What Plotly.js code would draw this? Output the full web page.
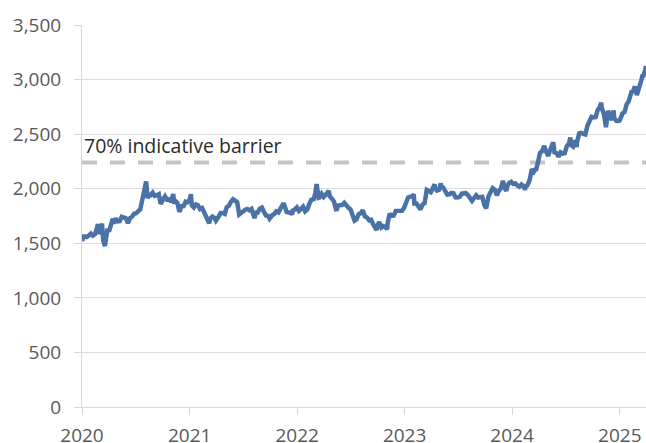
<!DOCTYPE html>
<html>
<head>
<meta charset="utf-8">
<script src="https://cdn.plot.ly/plotly-3.0.1.min.js"></script>
<style>html,body{margin:0;padding:0;background:#fff;}#chart{width:646px;height:443px;}</style>
</head>
<body>
<div id="chart"></div>
<script>
// Gold price (USD/oz)
const dates2020 = ["2020-01-01","2020-01-03","2020-01-08","2020-01-10","2020-01-17","2020-01-24","2020-01-31","2020-02-07","2020-02-14","2020-02-21","2020-02-24","2020-02-28","2020-03-06","2020-03-09","2020-03-13","2020-03-19","2020-03-20","2020-03-27","2020-04-03","2020-04-10","2020-04-14","2020-04-17","2020-04-24","2020-05-01","2020-05-08","2020-05-15","2020-05-22","2020-05-29","2020-06-05","2020-06-12","2020-06-19","2020-06-26","2020-07-03","2020-07-10","2020-07-17","2020-07-24","2020-07-31","2020-08-06","2020-08-07","2020-08-11","2020-08-14","2020-08-21","2020-08-28","2020-09-04","2020-09-11","2020-09-18","2020-09-24","2020-10-02","2020-10-09","2020-10-16","2020-10-23","2020-10-30","2020-11-06","2020-11-09","2020-11-13","2020-11-20","2020-11-27","2020-12-04","2020-12-11","2020-12-18","2020-12-24","2020-12-31"];
const gold2020 = [1520,1552,1575,1562,1557,1571,1589,1570,1584,1644,1675,1585,1673,1680,1530,1475,1498,1618,1620,1683,1725,1683,1727,1700,1702,1743,1735,1730,1684,1730,1743,1771,1775,1799,1810,1902,1975,2067,2035,1911,1944,1940,1964,1934,1940,1950,1862,1900,1930,1900,1902,1879,1951,1862,1889,1871,1788,1839,1840,1881,1876,1895];

const dates2021 = ["2021-01-05","2021-01-08","2021-01-15","2021-01-22","2021-01-29","2021-02-05","2021-02-12","2021-02-19","2021-02-26","2021-03-05","2021-03-08","2021-03-12","2021-03-19","2021-03-26","2021-03-31","2021-04-09","2021-04-16","2021-04-23","2021-04-30","2021-05-07","2021-05-14","2021-05-21","2021-05-28","2021-06-04","2021-06-11","2021-06-18","2021-06-25","2021-07-02","2021-07-09","2021-07-16","2021-07-23","2021-07-30","2021-08-06","2021-08-09","2021-08-13","2021-08-20","2021-08-27","2021-09-03","2021-09-10","2021-09-17","2021-09-24","2021-09-29","2021-10-08","2021-10-15","2021-10-22","2021-10-29","2021-11-05","2021-11-12","2021-11-16","2021-11-19","2021-11-26","2021-12-03","2021-12-10","2021-12-15","2021-12-17","2021-12-24","2021-12-31"];
const gold2021 = [1950,1849,1829,1856,1848,1814,1823,1784,1734,1700,1683,1727,1745,1733,1708,1744,1777,1777,1769,1831,1844,1881,1903,1891,1877,1764,1781,1787,1808,1815,1802,1814,1763,1730,1780,1781,1818,1827,1788,1754,1750,1726,1757,1768,1793,1783,1818,1865,1867,1846,1788,1783,1783,1763,1799,1810,1829];

const dates2022 = ["2022-01-07","2022-01-14","2022-01-21","2022-01-28","2022-02-04","2022-02-11","2022-02-18","2022-02-24","2022-02-25","2022-03-04","2022-03-08","2022-03-11","2022-03-15","2022-03-18","2022-03-25","2022-04-01","2022-04-08","2022-04-18","2022-04-22","2022-04-29","2022-05-06","2022-05-13","2022-05-16","2022-05-20","2022-05-27","2022-06-03","2022-06-10","2022-06-17","2022-06-24","2022-07-01","2022-07-08","2022-07-15","2022-07-21","2022-07-29","2022-08-05","2022-08-12","2022-08-19","2022-08-26","2022-09-02","2022-09-09","2022-09-16","2022-09-23","2022-09-28","2022-09-30","2022-10-07","2022-10-14","2022-10-21","2022-10-28","2022-11-03","2022-11-04","2022-11-11","2022-11-18","2022-11-25","2022-12-02","2022-12-09","2022-12-16","2022-12-23","2022-12-30"];
const gold2022 = [1797,1818,1835,1792,1808,1859,1898,1904,1889,1966,2043,1988,1918,1921,1954,1925,1945,1979,1931,1897,1883,1811,1812,1846,1853,1851,1871,1840,1827,1811,1742,1708,1718,1766,1775,1802,1747,1737,1712,1717,1675,1644,1622,1661,1695,1644,1657,1645,1630,1681,1771,1751,1755,1797,1797,1793,1798,1824];

const dates2023 = ["2023-01-06","2023-01-13","2023-01-20","2023-01-27","2023-02-01","2023-02-03","2023-02-10","2023-02-17","2023-02-24","2023-03-03","2023-03-10","2023-03-17","2023-03-24","2023-03-31","2023-04-07","2023-04-13","2023-04-14","2023-04-21","2023-04-28","2023-05-04","2023-05-05","2023-05-12","2023-05-19","2023-05-26","2023-06-02","2023-06-09","2023-06-16","2023-06-23","2023-06-30","2023-07-07","2023-07-14","2023-07-21","2023-07-28","2023-08-04","2023-08-11","2023-08-18","2023-08-25","2023-09-01","2023-09-08","2023-09-15","2023-09-22","2023-09-29","2023-10-05","2023-10-13","2023-10-20","2023-10-27","2023-11-03","2023-11-10","2023-11-17","2023-11-24","2023-12-01","2023-12-04","2023-12-08","2023-12-13","2023-12-15","2023-12-22","2023-12-29"];
const gold2023 = [1866,1920,1926,1928,1951,1865,1865,1842,1811,1856,1868,1989,1978,1969,2007,2040,2004,1983,1990,2050,2017,2011,1977,1946,1948,1961,1958,1921,1919,1925,1955,1962,1959,1943,1914,1889,1915,1940,1919,1924,1925,1849,1820,1932,1981,2006,1992,1940,1981,2002,2072,2030,2004,1980,2019,2053,2063];

const dates2024 = ["2024-01-05","2024-01-12","2024-01-19","2024-01-26","2024-02-02","2024-02-09","2024-02-14","2024-02-16","2024-02-23","2024-03-01","2024-03-08","2024-03-15","2024-03-21","2024-03-22","2024-03-28","2024-04-05","2024-04-12","2024-04-19","2024-04-26","2024-05-03","2024-05-10","2024-05-20","2024-05-24","2024-05-31","2024-06-07","2024-06-14","2024-06-21","2024-06-28","2024-07-05","2024-07-12","2024-07-17","2024-07-19","2024-07-26","2024-08-02","2024-08-07","2024-08-09","2024-08-16","2024-08-23","2024-08-30","2024-09-06","2024-09-13","2024-09-20","2024-09-27","2024-10-04","2024-10-11","2024-10-18","2024-10-25","2024-10-30","2024-11-01","2024-11-08","2024-11-14","2024-11-15","2024-11-22","2024-11-29","2024-12-06","2024-12-11","2024-12-13","2024-12-20","2024-12-27","2024-12-31"];
const gold2024 = [2045,2049,2029,2018,2039,2024,1992,2013,2035,2083,2179,2156,2181,2165,2230,2329,2344,2392,2337,2301,2360,2425,2334,2327,2293,2333,2322,2326,2391,2411,2469,2400,2386,2443,2382,2431,2507,2512,2503,2497,2577,2621,2658,2653,2657,2721,2747,2788,2736,2685,2565,2563,2715,2650,2633,2718,2648,2622,2621,2624];

const dates2025 = ["2025-01-03","2025-01-10","2025-01-17","2025-01-24","2025-01-31","2025-02-07","2025-02-11","2025-02-14","2025-02-21","2025-02-28","2025-03-07","2025-03-14","2025-03-20","2025-03-21","2025-03-28","2025-03-31"];
const gold2025 = [2640,2690,2703,2771,2800,2861,2898,2883,2936,2858,2910,2984,3047,3023,3085,3124];

const barrierLevel = 2240;
const barrierLabel = "70% indicative barrier";
const xStart = "2020-01-01";
const xEnd = "2025-03-31";

const dates = [].concat(dates2020, dates2021, dates2022, dates2023, dates2024, dates2025);
const gold = [].concat(gold2020, gold2021, gold2022, gold2023, gold2024, gold2025);

const FONT = "'Open Sans', 'Noto Sans', sans-serif";
const traces = [
  {
    x: [xStart, xEnd], y: [barrierLevel, barrierLevel],
    type: "scatter", mode: "lines",
    line: {color: "#c3c3c3", width: 4, dash: "15px,13px"},
    hoverinfo: "skip", showlegend: false
  },
  {
    x: dates, y: gold,
    type: "scatter", mode: "lines",
    line: {color: "#4a72a6", width: 4.5},
    showlegend: false
  }
];

const layout = {
  width: 646, height: 443,
  margin: {l: 82, r: 0, t: 25, b: 36},
  paper_bgcolor: "#fff", plot_bgcolor: "#fff",
  font: {family: FONT, size: 19, color: "#595959"},
  showlegend: false,
  xaxis: {
    type: "date",
    range: [xStart, xEnd],
    tick0: "2020-01-01", dtick: "M12", tickformat: "%Y",
    showgrid: false, zeroline: false,
    showline: true, linecolor: "#d9d9d9", linewidth: 1,
    ticks: "outside", ticklen: 7, tickcolor: "#d9d9d9",
    ticklabelstandoff: 4,
    tickfont: {family: FONT, size: 19, color: "#595959"}
  },
  yaxis: {
    range: [0, 3500],
    dtick: 500, tickformat: ",d",
    showgrid: true, gridcolor: "#dddddd", gridwidth: 1,
    zeroline: false,
    showline: true, linecolor: "#d9d9d9", linewidth: 1,
    ticks: "outside", ticklen: 7, tickcolor: "#d9d9d9",
    ticklabelstandoff: 9,
    tickfont: {family: FONT, size: 19, color: "#595959"}
  },
  annotations: [{
    x: xStart, y: barrierLevel, xref: "x", yref: "y",
    xanchor: "left", yanchor: "bottom", xshift: 0, yshift: 2,
    text: barrierLabel, showarrow: false,
    font: {family: FONT, size: 19.5, color: "#2b2b2b"}
  }]
};

Plotly.newPlot("chart", traces, layout, {displayModeBar: false, staticPlot: true});
</script>
</body>
</html>
